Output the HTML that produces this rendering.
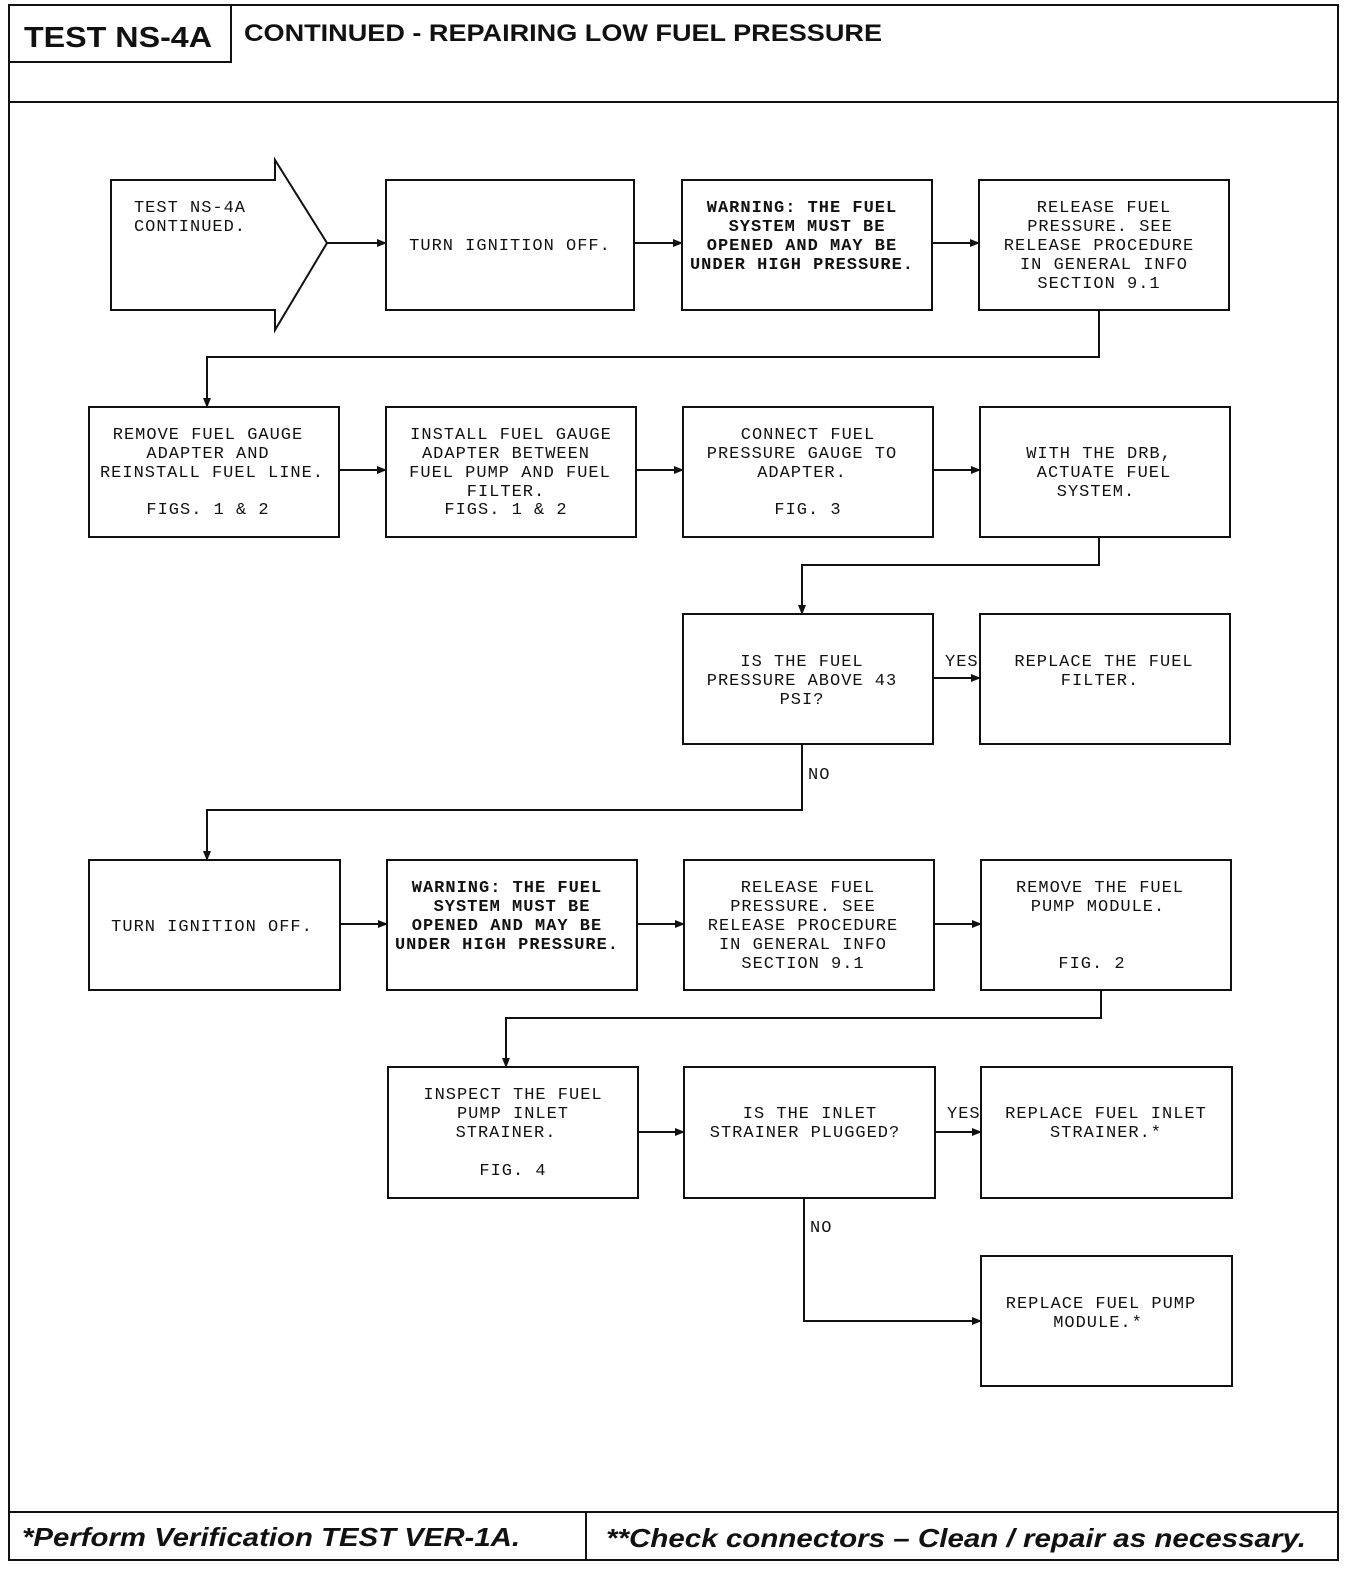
<!DOCTYPE html>
<html><head><meta charset="utf-8"><style>
body{margin:0;background:#fff;width:1360px;height:1570px;overflow:hidden}
svg text{font-family:"Liberation Mono",monospace;font-size:17px;fill:#111;letter-spacing:1px}
.b{font-weight:bold}
</style></head><body>
<svg width="1360" height="1570" viewBox="0 0 1360 1570" xmlns="http://www.w3.org/2000/svg">
<defs><marker id="a" markerWidth="10" markerHeight="8" refX="9" refY="4" orient="auto" markerUnits="userSpaceOnUse"><path d="M0,0 L10,4 L0,8 Z" fill="#111"/></marker></defs>
<g fill="none" stroke="#111" stroke-width="2">
<rect x="9" y="5" width="1329" height="1555"/>
<line x1="9" y1="102" x2="1338" y2="102"/>
<polyline points="9,62 231,62 231,5"/>
<line x1="9" y1="1512" x2="1338" y2="1512"/>
<line x1="586" y1="1512" x2="586" y2="1560"/>
<path d="M111,180 H275 V160 L327,243 L275,330 V310 H111 Z"/>
<rect x="386" y="180" width="248" height="130"/>
<rect x="682" y="180" width="250" height="130"/>
<rect x="979" y="180" width="250" height="130"/>
<rect x="89" y="407" width="250" height="130"/>
<rect x="386" y="407" width="250" height="130"/>
<rect x="683" y="407" width="250" height="130"/>
<rect x="980" y="407" width="250" height="130"/>
<rect x="683" y="614" width="250" height="130"/>
<rect x="980" y="614" width="250" height="130"/>
<rect x="89" y="860" width="251" height="130"/>
<rect x="387" y="860" width="250" height="130"/>
<rect x="684" y="860" width="250" height="130"/>
<rect x="981" y="860" width="250" height="130"/>
<rect x="388" y="1067" width="250" height="131"/>
<rect x="684" y="1067" width="251" height="131"/>
<rect x="981" y="1067" width="251" height="131"/>
<rect x="981" y="1256" width="251" height="130"/>
</g>
<g fill="none" stroke="#111" stroke-width="2" marker-end="url(#a)">
<line x1="327" y1="243" x2="386" y2="243"/>
<line x1="634" y1="243" x2="682" y2="243"/>
<line x1="932" y1="243" x2="979" y2="243"/>
<polyline points="1099,310 1099,357 207,357 207,407"/>
<line x1="339" y1="470" x2="386" y2="470"/>
<line x1="636" y1="470" x2="683" y2="470"/>
<line x1="933" y1="470" x2="980" y2="470"/>
<polyline points="1099,537 1099,565 802,565 802,614"/>
<line x1="933" y1="678" x2="980" y2="678"/>
<polyline points="802,744 802,810 207,810 207,860"/>
<line x1="340" y1="924" x2="387" y2="924"/>
<line x1="637" y1="924" x2="684" y2="924"/>
<line x1="934" y1="924" x2="981" y2="924"/>
<polyline points="1101,990 1101,1018 506,1018 506,1067"/>
<line x1="638" y1="1132" x2="684" y2="1132"/>
<line x1="935" y1="1132" x2="981" y2="1132"/>
<polyline points="804,1198 804,1321 981,1321"/>
</g>
<g style="letter-spacing:0">
<text x="24" y="47" textLength="188" lengthAdjust="spacingAndGlyphs" style="font-family:'Liberation Sans',sans-serif;font-weight:bold;font-size:29px;letter-spacing:0">TEST NS-4A</text>
<text x="244" y="41" textLength="638" lengthAdjust="spacingAndGlyphs" style="font-family:'Liberation Sans',sans-serif;font-weight:bold;font-size:24px;letter-spacing:0">CONTINUED -  REPAIRING LOW FUEL PRESSURE</text>
<text x="22" y="1546" textLength="498" lengthAdjust="spacingAndGlyphs" style="font-family:'Liberation Sans',sans-serif;font-weight:bold;font-style:italic;font-size:26px;letter-spacing:0">*Perform Verification TEST VER-1A.</text>
<text x="606" y="1547" textLength="700" lengthAdjust="spacingAndGlyphs" style="font-family:'Liberation Sans',sans-serif;font-weight:bold;font-style:italic;font-size:26px;letter-spacing:0">**Check connectors – Clean / repair as necessary.</text>
</g>
<g text-anchor="middle">
<text x="190" y="212">TEST NS-4A</text><text x="190" y="231">CONTINUED.</text>
<text x="510" y="250">TURN IGNITION OFF.</text>
<g class="b"><text x="802" y="212">WARNING: THE FUEL</text><text x="807" y="231">SYSTEM MUST BE</text><text x="802" y="250">OPENED AND MAY BE</text><text x="802" y="269">UNDER HIGH PRESSURE.</text></g>
<text x="1104" y="212">RELEASE FUEL</text><text x="1100" y="231">PRESSURE. SEE</text><text x="1099" y="250">RELEASE PROCEDURE</text><text x="1104" y="269">IN GENERAL INFO</text><text x="1099" y="288">SECTION 9.1</text>
<text x="208" y="439">REMOVE FUEL GAUGE</text><text x="208" y="458">ADAPTER AND</text><text x="212" y="477">REINSTALL FUEL LINE.</text><text x="208" y="514">FIGS. 1 &amp; 2</text>
<text x="511" y="439">INSTALL FUEL GAUGE</text><text x="506" y="458">ADAPTER BETWEEN</text><text x="510" y="477">FUEL PUMP AND FUEL</text><text x="506" y="496">FILTER.</text><text x="506" y="514">FIGS. 1 &amp; 2</text>
<text x="808" y="439">CONNECT FUEL</text><text x="802" y="458">PRESSURE GAUGE TO</text><text x="802" y="477">ADAPTER.</text><text x="808" y="514">FIG. 3</text>
<text x="1099" y="458">WITH THE DRB,</text><text x="1104" y="477">ACTUATE FUEL</text><text x="1096" y="496">SYSTEM.</text>
<text x="802" y="666">IS THE FUEL</text><text x="802" y="685">PRESSURE ABOVE 43</text><text x="802" y="704">PSI?</text>
<text x="1104" y="666">REPLACE THE FUEL</text><text x="1100" y="685">FILTER.</text>
<text x="212" y="931">TURN IGNITION OFF.</text>
<g class="b"><text x="507" y="892">WARNING: THE FUEL</text><text x="512" y="911">SYSTEM MUST BE</text><text x="507" y="930">OPENED AND MAY BE</text><text x="507" y="949">UNDER HIGH PRESSURE.</text></g>
<text x="808" y="892">RELEASE FUEL</text><text x="803" y="911">PRESSURE. SEE</text><text x="803" y="930">RELEASE PROCEDURE</text><text x="803" y="949">IN GENERAL INFO</text><text x="803" y="968">SECTION 9.1</text>
<text x="1100" y="892">REMOVE THE FUEL</text><text x="1098" y="911">PUMP MODULE.</text><text x="1092" y="968">FIG. 2</text>
<text x="513" y="1099">INSPECT THE FUEL</text><text x="513" y="1118">PUMP INLET</text><text x="506" y="1137">STRAINER.</text><text x="513" y="1175">FIG. 4</text>
<text x="810" y="1118">IS THE INLET</text><text x="805" y="1137">STRAINER PLUGGED?</text>
<text x="1106" y="1118">REPLACE FUEL INLET</text><text x="1106" y="1137">STRAINER.*</text>
<text x="1101" y="1308">REPLACE FUEL PUMP</text><text x="1098" y="1327">MODULE.*</text>
</g>
<text x="945" y="666">YES</text>
<text x="808" y="779">NO</text>
<text x="947" y="1118">YES</text>
<text x="810" y="1232">NO</text>
</svg>
</body></html>
